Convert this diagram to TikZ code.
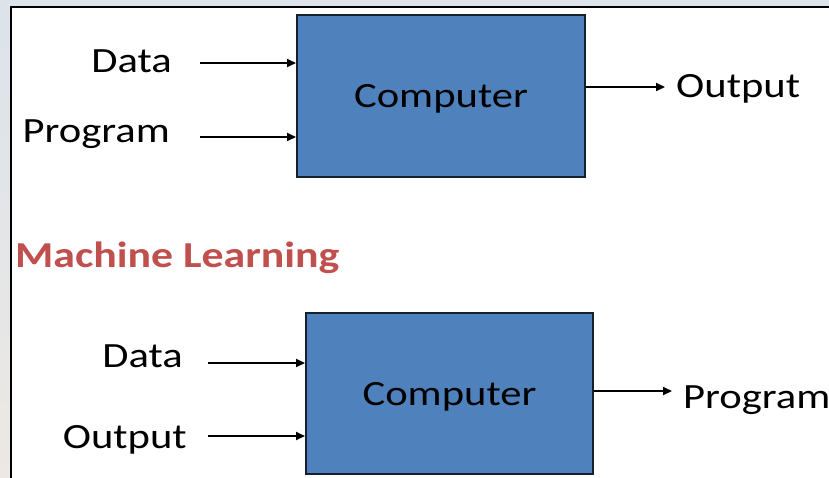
\documentclass[tikz,border=0pt]{standalone}
\usepackage{fontspec}
\setmainfont{Carlito}[FakeStretch=1.2]
\usepackage{tikz}
\usetikzlibrary{arrows.meta}
\definecolor{boxBlue}{HTML}{4F81BD}
\definecolor{boxEdge}{HTML}{16202C}
\definecolor{titleRed}{HTML}{C0504D}
\definecolor{frameTop}{HTML}{DCE3EB}
\definecolor{frameBottom}{HTML}{ECE8E3}

\begin{document}
\begin{tikzpicture}[x=1pt, y=-1pt,
  boxStyle/.style={draw=boxEdge, fill=boxBlue, line width=2pt, inner sep=0pt, text depth=0pt, font=\fontsize{35.5}{42}\selectfont},
  labelStyle/.style={inner sep=0pt, font=\fontsize{35.5}{42}\selectfont},
  flowStyle/.style={line width=1.8pt, -{Triangle[length=9pt,width=8pt]}}
]
\useasboundingbox (0,0) rectangle (829,477);
\clip (0,0) rectangle (829,477);
\shade[top color=frameTop, bottom color=frameBottom] (0,0) rectangle (829,477);
\draw [fill=white, line width=1.8pt] (11,7) rectangle (840,490);

\node [boxStyle, minimum width=288pt, minimum height=162pt] (comp1) at (441,96) {Computer};
\node [labelStyle, anchor=base east] (data1) at (172,72) {Data};
\node [labelStyle, anchor=base east] (prog1) at (170,142) {Program};
\node [labelStyle, anchor=base west] (out1) at (676,97) {Output};

\coordinate (data1Tail) at ([xshift=28pt, yshift=9pt]data1.base east);
\coordinate (prog1Tail) at ([xshift=30pt, yshift=5pt]prog1.base east);
\coordinate (out1Head)  at ([xshift=-11pt, yshift=10pt]out1.base west);
\draw [flowStyle] (data1Tail) -- (data1Tail -| comp1.west);
\draw [flowStyle] (prog1Tail) -- (prog1Tail -| comp1.west);
\draw [flowStyle] (out1Head -| comp1.east) -- (out1Head);

\node [anchor=base west, inner sep=0pt, text=titleRed, font=\fontsize{36.5}{42}\selectfont\bfseries] (mlTitle) at (15,267) {Machine Learning};

\node [boxStyle, minimum width=287pt, minimum height=161pt] (comp2) at (449.5,393.5) {Computer};
\node [labelStyle, anchor=base east] (data2) at (183,367) {Data};
\node [labelStyle, anchor=base east] (out2) at (187,448) {Output};
\node [labelStyle, anchor=base west] (prog2) at (683,408) {Program};

\coordinate (data2Tail) at ([xshift=25pt, yshift=4pt]data2.base east);
\coordinate (out2Tail)  at ([xshift=21pt, yshift=12pt]out2.base east);
\coordinate (prog2Head) at ([xshift=-11pt, yshift=17pt]prog2.base west);
\draw [flowStyle] (data2Tail) -- (data2Tail -| comp2.west);
\draw [flowStyle] (out2Tail) -- (out2Tail -| comp2.west);
\draw [flowStyle] (prog2Head -| comp2.east) -- (prog2Head);
\end{tikzpicture}
\end{document}
